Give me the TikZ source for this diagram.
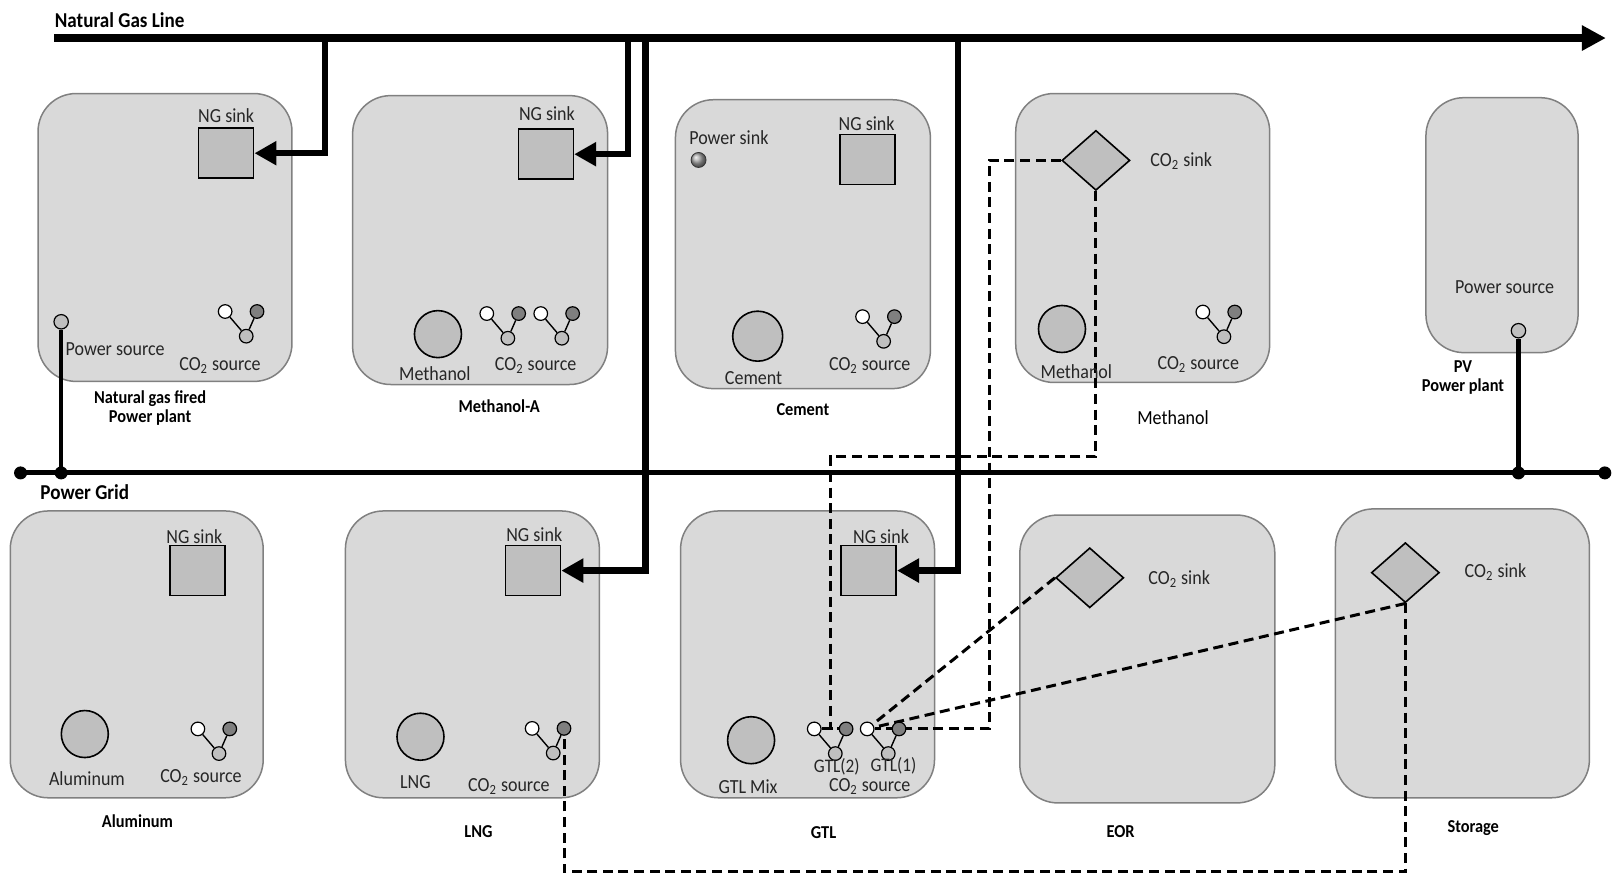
\documentclass[tikz,border=0pt]{standalone}
\usepackage{fontspec}
\setmainfont{Carlito}[FakeStretch=0.9]
\usetikzlibrary{arrows.meta,shapes.geometric}
\pgfdeclarelayer{bg}
\pgfdeclarelayer{mid}
\pgfsetlayers{bg,mid,main}
\definecolor{boxfill}{HTML}{D9D9D9}
\definecolor{boxline}{HTML}{808080}
\definecolor{elfill}{HTML}{BFBFBF}
\definecolor{darkel}{HTML}{7F7F7F}
\begin{document}
\begin{tikzpicture}[x=0.514pt, y=-0.514pt,
 plant/.style={draw=boxline, fill=boxfill, line width=0.75pt, rounded corners=19pt},
 ngbox/.style={rectangle, draw=black, fill=elfill, line width=0.8pt, minimum width=27.5pt, minimum height=25pt, inner sep=0},
 bigc/.style={circle, draw=black, fill=elfill, line width=0.8pt, minimum size=23.5pt, inner sep=0},
 sinkd/.style={diamond, draw=black, fill=elfill, line width=0.8pt, minimum width=34pt, minimum height=30pt, inner sep=0},
 smallc/.style={circle, draw=black, line width=0.6pt, minimum size=6.8pt, inner sep=0},
 wc/.style={smallc, fill=white},
 dc/.style={smallc, fill=darkel},
 mc/.style={smallc, fill=elfill},
 iconline/.style={line width=0.7pt},
 lbl/.style={font=\fontsize{10}{11.5}\selectfont, text=black!85, inner sep=0},
 blbl/.style={font=\fontsize{9.1}{9.5}\selectfont\bfseries, inner sep=0, align=center},
 hdr/.style={font=\fontsize{10.6}{12}\selectfont\bfseries, inner sep=0, anchor=west},
 ngline/.style={line width=4pt, -{Triangle[length=12pt,width=12pt]}},
 ngbranch/.style={line width=3.2pt, -{Triangle[length=11pt,width=11.5pt]}},
 gridline/.style={line width=2.5pt},
 pwr/.style={line width=2.2pt},
 gdot/.style={circle, fill=black, minimum size=6.5pt, inner sep=0},
 cdash/.style={line width=1.5pt, dash pattern=on 5pt off 2.8pt},
 pics/cotwo/.style={code={
   \node[wc] (-w) at (0,0) {};
   \node[dc] (-d) at (31,0) {};
   \node[mc] (-m) at (20.5,24) {};
   \draw[iconline] (-w) -- (-m) (-d) -- (-m);
 }}
]
\useasboundingbox (0,0) rectangle (1568,853);

% plant boxes
\begin{pgfonlayer}{bg}
\fill[white] (0,0) rectangle (1568,853);
\draw[plant] (37,91) rectangle (284,371);
\draw[plant] (343,93) rectangle (591,374);
\draw[plant] (657,97) rectangle (905,378);
\draw[plant] (988,91) rectangle (1235,372);
\draw[plant] (1387,95) rectangle (1535,343);
\draw[plant] (10,497) rectangle (256,776);
\draw[plant] (336,497) rectangle (583,776);
\draw[plant] (662,497) rectangle (909,776);
\draw[plant] (992,501) rectangle (1240,781);
\draw[plant] (1299,495) rectangle (1546,776);
\end{pgfonlayer}

% headers
\node[hdr] (ngl) at (53,19.5) {Natural Gas Line};
\node[hdr] (pgl) at (39,478.6) {Power Grid};

% NG sinks
\node[ngbox] (sA) at (220,149) {};
\node[ngbox] (sB) at (531,150) {};
\node[ngbox] (sC) at (844,155) {};
\node[ngbox] (sF) at (192,555) {};
\node[ngbox] (sG) at (518.5,555) {};
\node[ngbox] (sH) at (845,555) {};
\node[lbl] (lsA) at (220,112) {NG sink};
\node[lbl] (lsB) at (532,111) {NG sink};
\node[lbl] (lsC) at (843,120) {NG sink};
\node[lbl] (lsF) at (189,522) {NG sink};
\node[lbl] (lsG) at (519.7,520.5) {NG sink};
\node[lbl] (lsH) at (857,522) {NG sink};

% big circles
\node[bigc] (cB) at (426,325) {};
\node[bigc, minimum size=25pt] (cC) at (737,327) {};
\node[bigc] (cD) at (1033,320) {};
\node[bigc] (cF) at (82.5,714) {};
\node[bigc] (cG) at (409,716.6) {};
\node[bigc] (cH) at (730.6,720) {};
\node[lbl] (lcB) at (423,363) {Methanol};
\node[lbl] (lcC) at (733,367.5) {Cement};
\node[lbl] (lcD) at (1047,361) {Methanol};
\node[lbl] (lcF) at (84.6,757) {Aluminum};
\node[lbl] (lcG) at (404,761) {LNG};
\node[lbl] (lcH) at (727.6,765) {GTL Mix};

% CO2 sinks
\node[sinkd] (Dsink) at (1066,156) {};
\node[sinkd] (Isink) at (1060,562) {};
\node[sinkd] (Jsink) at (1367,557) {};
\node[lbl] (lDs) at (1149,157) {CO\textsubscript{2} sink};
\node[lbl] (lIs) at (1147,563) {CO\textsubscript{2} sink};
\node[lbl] (lJs) at (1454.7,556) {CO\textsubscript{2} sink};

% CO2 sources
\pic (A) at (219,303) {cotwo};
\pic (B1) at (473.5,305) {cotwo};
\pic (B2) at (526,305) {cotwo};
\pic (C) at (839,308) {cotwo};
\pic (D) at (1170,303.5) {cotwo};
\pic (F) at (192.5,709) {cotwo};
\pic (G) at (517.6,708.5) {cotwo};
\pic (H2) at (792,709) {cotwo};
\pic (H1) at (843.5,709) {cotwo};
\node[lbl] (lA) at (214,356) {CO\textsubscript{2} source};
\node[lbl] (lB) at (521,356) {CO\textsubscript{2} source};
\node[lbl] (lC) at (846,356) {CO\textsubscript{2} source};
\node[lbl] (lD) at (1165.6,355) {CO\textsubscript{2} source};
\node[lbl] (lF) at (195.5,756) {CO\textsubscript{2} source};
\node[lbl] (lG) at (495,764.6) {CO\textsubscript{2} source};
\node[lbl] (lH) at (846,765.5) {CO\textsubscript{2} source};
\node[lbl, font=\fontsize{9.6}{11}\selectfont] (lH2) at (814,745.5) {GTL(2)};
\node[lbl, font=\fontsize{9.6}{11}\selectfont] (lH1) at (869,745.3) {GTL(1)};

% power
\node[smallc, fill=elfill, minimum size=7.2pt] (psA) at (59.5,313) {};
\node[smallc, fill=elfill, minimum size=7.2pt] (psE) at (1477,321.7) {};
\node[lbl] (lpsA) at (112,340) {Power source};
\node[lbl] (lpsE) at (1463.6,279.6) {Power source};
\node[circle, draw=black!80, line width=0.4pt, shading=ball, ball color=gray!70, minimum size=7.5pt, inner sep=0] (psink) at (679.5,155.6) {};
\node[lbl] (lpsink) at (709,134) {Power sink};

% plant names
\node[blbl] (nA) at (146,397) {Natural gas fired\\Power plant};
\node[blbl] (nB) at (485.5,395) {Methanol-A};
\node[blbl] (nC) at (781,398) {Cement};
\node[lbl, text=black] (nD) at (1141,406) {Methanol};
\node[blbl] (nE) at (1423,367) {PV\\Power plant};
\node[blbl] (nF) at (133.7,798.6) {Aluminum};
\node[blbl] (nG) at (465.5,809) {LNG};
\node[blbl] (nH) at (801,810) {GTL};
\node[blbl] (nI) at (1090,809) {EOR};
\node[blbl] (nJ) at (1433,805.5) {Storage};

% natural gas line
\coordinate (ngS) at (53,37);
\coordinate (ngE) at (1562,37);
\coordinate (b1) at (316,37);
\coordinate (b2) at (611,37);
\coordinate (b3) at (628,37);
\coordinate (b4) at (932,37);
\draw[ngline] (ngS) -- (ngE);
\draw[ngbranch] (b1) |- (sA.east);
\draw[ngbranch] (b2) |- (sB.east);
\draw[ngbranch] (b3) |- (sG.east);
\draw[ngbranch] (b4) |- (sH.east);

% power grid
\coordinate (gS) at (20,460);
\coordinate (gE) at (1561,460);
\coordinate (gA) at (59.5,460);
\coordinate (gP) at (1477,460);
\draw[gridline] (gS) -- (gE);
\draw[pwr] (psA.south) -- (gA);
\draw[pwr] (psE.south) -- (gP);
\node[gdot] (dS) at (gS) {};
\node[gdot] (dE) at (gE) {};
\node[gdot] (dA) at (gA) {};
\node[gdot] (dP) at (gP) {};

% CO2 dashed connections
\coordinate (x962) at (962,0);
\coordinate (k2) at (808,444);
\coordinate (ybot) at (0,848);
\begin{pgfonlayer}{mid}
\draw[cdash] (Dsink.west) -| (x962 |- H1-w) -- (H1-w.east);
\draw[cdash] (Dsink.south) |- (k2) -- (k2 |- H2-d) -- (H2-d.west);
\draw[cdash] (H2-w) -- (H2-d);
\draw[cdash] (Isink.west) -- (H1-w);
\draw[cdash] (Jsink.south) -- (H1-w);
\draw[cdash] (Jsink.south) -- (Jsink.south |- ybot) -| (G-d.south);
\end{pgfonlayer}
\end{tikzpicture}
\end{document}
